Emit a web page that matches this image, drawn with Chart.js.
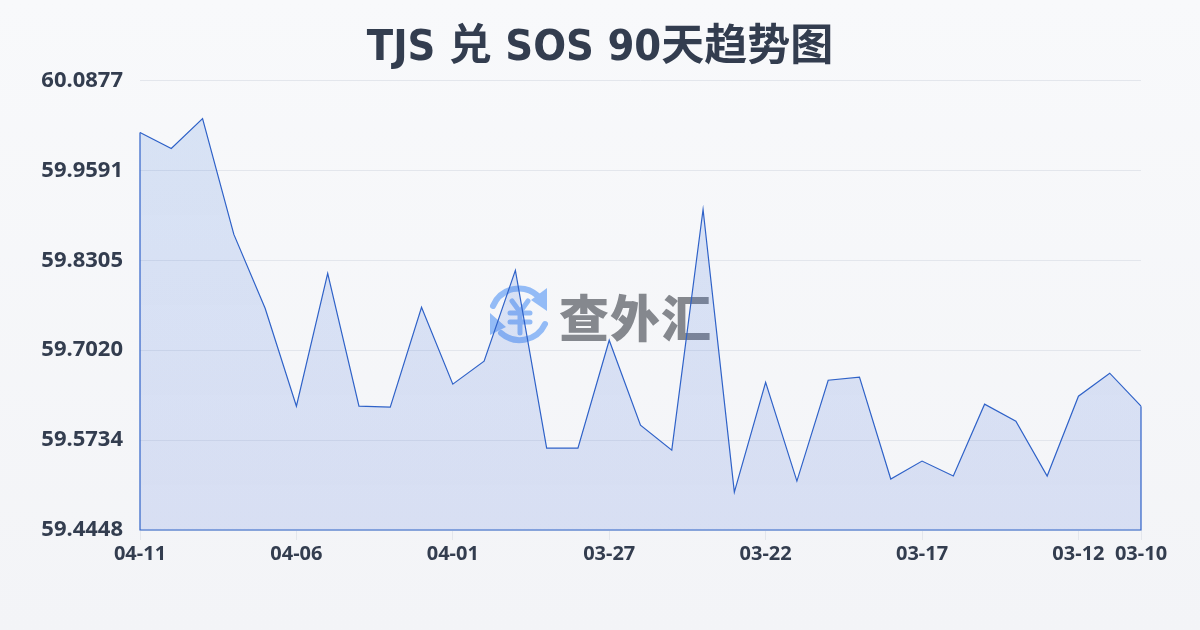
<!DOCTYPE html>
<html><head><meta charset="utf-8">
<style>
html,body{margin:0;padding:0;width:1200px;height:630px;overflow:hidden}
body{background:linear-gradient(180deg,#f8f9fb 0%,#f3f4f7 100%);position:relative;font-family:"Noto Sans CJK SC",sans-serif}
#wm{position:absolute;left:488px;top:283px;width:240px;height:62px}
#wmt{position:absolute;left:559px;top:280px;font:900 50px/70px "Noto Sans CJK SC";color:#85888e;letter-spacing:1px;white-space:nowrap}
canvas{position:absolute;left:0;top:0}
</style></head><body>
<svg id="wm" viewBox="0 0 240 62">
<g fill="none" stroke="#93bbf6" stroke-width="6" stroke-linecap="round">
<path d="M5 23 A28 28 0 0 1 50 13"/><path d="M57 41 A28 28 0 0 1 13 50"/>
<path d="M24 18 L32 29 L40 18" stroke-width="5"/><path d="M22 30H42M22 39H42M32 29V50" stroke-width="5"/>
</g>
<path d="M59 5 L59 28 L43 17Z M2 30 L2 52 L18 44Z" fill="#93bbf6"/>
</svg>
<div id="wmt">查外汇</div>
<canvas id="c" width="1200" height="630"></canvas>
<script src="https://cdn.jsdelivr.net/npm/chart.js@4/dist/chart.umd.min.js"></script>
<script>
const categories=["04-11","04-10","04-09","04-08","04-07","04-06","04-05","04-04","04-03","04-02","04-01","03-31","03-30","03-29","03-28","03-27","03-26","03-25","03-24","03-23","03-22","03-21","03-20","03-19","03-18","03-17","03-16","03-15","03-14","03-13","03-12","03-11","03-10"];
const rates=[60.0134,59.9906,60.0334,59.8677,59.7620,59.6220,59.8120,59.6220,59.6205,59.7634,59.6534,59.6863,59.8163,59.5620,59.5620,59.7163,59.5948,59.5591,59.9034,59.4991,59.6562,59.5148,59.6591,59.6634,59.5177,59.5434,59.5220,59.6248,59.6005,59.5220,59.6362,59.6691,59.6220];
const xTickLabels=["04-11","04-06","04-01","03-27","03-22","03-17","03-12","03-10"];
const yTickValues=[60.0877,59.9591,59.8305,59.7020,59.5734,59.4448];
const titleText="TJS 兑 SOS 90天趋势图";
const LINE="#2f62c8";
const TITLE_FONT='"DejaVu Sans Condensed","Noto Sans CJK SC"';
const TICK_FONT='"Noto Sans"';
const outline={id:'outline',afterDatasetsDraw(ch){
  const pts=ch.getDatasetMeta(0).data,g=ch.ctx,base=ch.scales.y.bottom;
  const a=pts[0],b=pts[pts.length-1];
  g.save();g.strokeStyle=LINE;g.lineWidth=1.2;g.beginPath();
  g.moveTo(a.x,a.y);g.lineTo(a.x,base);g.lineTo(b.x,base);g.lineTo(b.x,b.y);g.stroke();g.restore();
}};
new Chart(document.getElementById('c'),{
  type:'line',
  data:{labels:categories,datasets:[{data:rates,borderColor:LINE,borderWidth:1.2,pointRadius:0,tension:0,fill:'start',
    backgroundColor(ctx){
      const a=ctx.chart.chartArea;if(!a)return 'rgba(59,110,220,.16)';
      const gr=ctx.chart.ctx.createLinearGradient(0,a.top,0,a.bottom);
      gr.addColorStop(0,'rgba(60,120,220,.17)');gr.addColorStop(1,'rgba(60,100,215,.15)');return gr;}
  }]},
  options:{responsive:false,animation:false,
    layout:{padding:0},
    plugins:{legend:{display:false},tooltip:{enabled:false},
      title:{display:true,text:titleText,color:'#333d4f',font:{size:43,weight:'700',family:TITLE_FONT,lineHeight:1.2},padding:{top:23,bottom:6}}},
    scales:{
      x:{offset:false,
        afterBuildTicks(s){s.ticks=categories.map((c,i)=>({value:i})).filter(t=>xTickLabels.includes(categories[t.value]));},
        ticks:{autoSkip:false,maxRotation:0,minRotation:0,color:'#333d4f',padding:2,font:{size:20,weight:'700',family:TICK_FONT}},
        grid:{drawOnChartArea:false,color:'#e3e6ec',tickLength:10},border:{display:false},
        afterFit(s){s.height=100;}},
      y:{min:59.4448,max:60.0877,
        afterBuildTicks(s){s.ticks=yTickValues.map(v=>({value:v}));},
        ticks:{color:'#333d4f',padding:17,font:{size:22,weight:'700',family:TICK_FONT},callback:v=>v.toFixed(4)},
        grid:{color:'#e3e6ec',lineWidth:1,drawTicks:false},border:{display:false},
        afterFit(s){s.width=140;}},
      yRight:{position:'right',min:59.4448,max:60.0877,
        ticks:{display:false},grid:{display:false,drawOnChartArea:false},border:{display:false},
        afterFit(s){s.width=59;}}
    }},
  plugins:[outline]
});
</script></body></html>
